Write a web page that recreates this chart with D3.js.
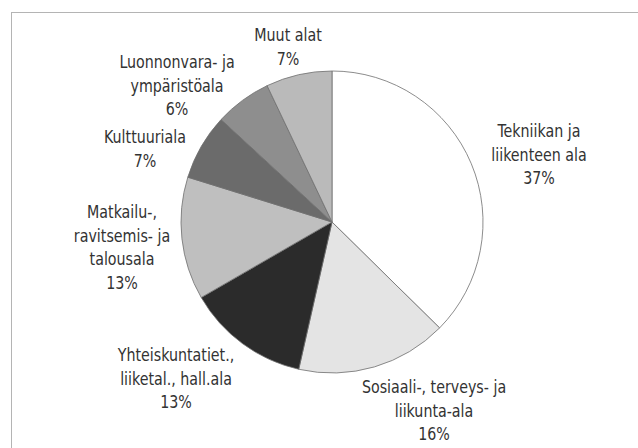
<!DOCTYPE html>
<html>
<head>
<meta charset="utf-8">
<script src="https://cdn.jsdelivr.net/npm/d3@7"></script>
<style>
  body { margin: 0; background: #fff; }
  svg { display: block; }
</style>
</head>
<body>
<svg id="chart"></svg>
<script>
// fields, clockwise from 12 o'clock
const categories = [
    'Tekniikan ja liikenteen ala',
    'Sosiaali-, terveys- ja liikunta-ala',
    'Yhteiskuntatiet., liiketal., hall.ala',
    'Matkailu-, ravitsemis- ja talousala',
    'Kulttuuriala',
    'Luonnonvara- ja ympäristöala',
    'Muut alat'
]
const shares = [37, 16, 13, 13, 7, 6, 7]

// how the label text is broken into lines
const labelLines = [
    ['Tekniikan ja', 'liikenteen ala'],
    ['Sosiaali-, terveys- ja', 'liikunta-ala'],
    ['Yhteiskuntatiet.,', 'liiketal., hall.ala'],
    ['Matkailu-,', 'ravitsemis- ja', 'talousala'],
    ['Kulttuuriala'],
    ['Luonnonvara- ja', 'ympäristöala'],
    ['Muut alat']
]

const fills = ['#ffffff', '#e4e4e4', '#2b2b2b', '#bfbfbf', '#6b6b6b', '#8e8e8e', '#bababa']

// label anchor (centre of first line), placed by hand to match the layout
const labelPos = [
    [539, 131], [434, 387], [176, 355], [122, 212], [145, 137], [177, 62], [288, 35]
]

const width = 638, height = 448
const cx = 332, cy = 222, radius = 151
const lineH = 23.5

const svg = d3.select('#chart')
    .attr('width', width)
    .attr('height', height)

// frame, right and bottom edges run off the picture
svg.append('rect')
    .attr('x', 11.5).attr('y', 12.5)
    .attr('width', 700).attr('height', 500)
    .attr('fill', 'none')
    .attr('stroke', '#b4b4b4')
    .attr('stroke-width', 1)

const data = categories.map((c, i) => ({ name: c, value: shares[i], lines: labelLines[i] }))

const pie = d3.pie().sort(null).value(d => d.value)
const arc = d3.arc().innerRadius(0).outerRadius(radius)

const g = svg.append('g')
    .attr('transform', `translate(${cx},${cy})`)

g.selectAll('path')
    .data(pie(data))
    .join('path')
    .attr('d', arc)
    .attr('fill', (d, i) => fills[i])
    .attr('stroke', '#6e6e6e')
    .attr('stroke-width', 0.8)

// labels - squeeze the font a bit so it looks like the condensed original
const labels = svg.append('g')
    .attr('font-family', '"Liberation Sans Narrow", "DejaVu Sans Condensed", sans-serif')
    .attr('font-size', 18)
    .attr('fill', '#333')
    .attr('text-anchor', 'middle')

labels.selectAll('g')
    .data(data)
    .join('g')
    .attr('transform', (d, i) => `translate(${labelPos[i][0]},${labelPos[i][1]}) scale(0.88,1)`)
    .each(function(d) {
        const t = d3.select(this).append('text')
        const lines = d.lines.concat([d.value + '%'])
        lines.forEach((l, j) => {
            t.append('tspan')
                .attr('x', 0)
                .attr('y', j * lineH)
                .attr('dy', '0.35em')
                .text(l)
        })
    })
</script>
</body>
</html>
